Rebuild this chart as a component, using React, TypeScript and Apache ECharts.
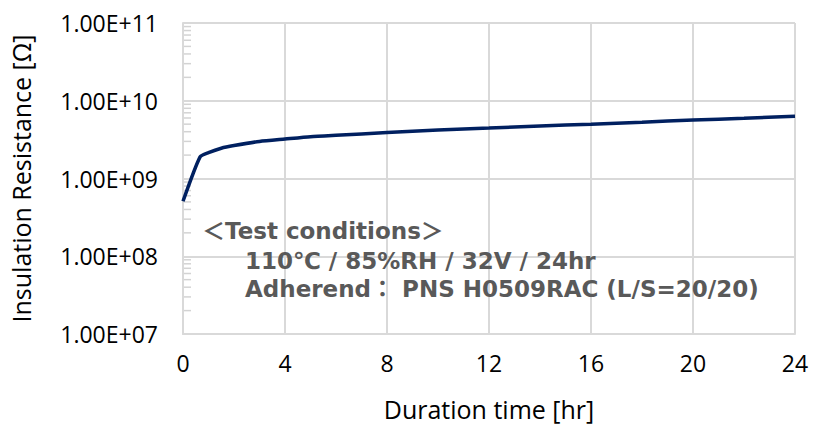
import React, { useEffect, useRef } from "react";
import * as echarts from "echarts";

const xHours = [0, 0.67, 1, 1.5, 2, 3, 4, 5, 6, 8, 10, 12, 14, 16, 18, 20, 22, 24];
const resistance = [5.1e8, 1.9e9, 2.15e9, 2.45e9, 2.65e9, 3.0e9, 3.22e9, 3.45e9, 3.6e9, 3.9e9, 4.2e9, 4.45e9, 4.75e9, 5.0e9, 5.3e9, 5.65e9, 5.95e9, 6.3e9];
const minorMantissas = [2, 3, 4, 5, 6, 7, 8, 9];
const decadeExponents = [7, 8, 9, 10];
const noteLines = ["＜Test conditions＞", "110℃ / 85%RH / 32V / 24hr", "Adherend： PNS H0509RAC (L/S=20/20)"];
const xTitle = "Duration time [hr]";
const yTitle = "Insulation Resistance [Ω]";

const labelFont = "'Open Sans', 'Liberation Sans', Arial, sans-serif";

export default function App() {
  const ref = useRef<HTMLDivElement>(null);
  useEffect(() => {
    document.body.style.margin = "0";
    const chart = echarts.init(ref.current!, null, { renderer: "svg" });
    const minorData: number[][] = [];
    decadeExponents.forEach((e) => minorMantissas.forEach((m) => minorData.push([0, m * Math.pow(10, e)])));
    const linePts = xHours.map((x, i) => [x, resistance[i]]);
    const notePos = [[202, 231], [245, 261], [245, 289]];
    chart.setOption({
      animation: false,
      backgroundColor: "#ffffff",
      grid: { left: 183, right: 21, top: 23, bottom: 90 },
      xAxis: {
        type: "value",
        min: 0,
        max: 24,
        interval: 4,
        name: xTitle,
        nameLocation: "middle",
        nameGap: 62,
        nameTextStyle: { fontFamily: labelFont, fontSize: 25, color: "#000" },
        axisLine: { show: true, lineStyle: { color: "#d9d9d9", width: 2 } },
        axisTick: { show: false },
        axisLabel: { fontFamily: labelFont, fontSize: 23, color: "#000", margin: 17 },
        splitLine: { show: true, lineStyle: { color: "#d9d9d9", width: 2 } },
      },
      yAxis: {
        type: "log",
        logBase: 10,
        min: 1e7,
        max: 1e11,
        name: yTitle,
        nameLocation: "middle",
        nameRotate: 90,
        nameGap: 150,
        nameTextStyle: { fontFamily: labelFont, fontSize: 25, color: "#000" },
        axisLine: { show: true, lineStyle: { color: "#d9d9d9", width: 2 } },
        axisTick: { show: false },
        axisLabel: {
          fontFamily: labelFont,
          fontSize: 23,
          color: "#000",
          margin: 25,
          formatter: (v: number) => {
            const e = Math.round(Math.log10(v));
            const m = v / Math.pow(10, e);
            return `${m.toFixed(2)}E+${String(e).padStart(2, "0")}`;
          },
        },
        splitLine: { show: true, lineStyle: { color: "#d9d9d9", width: 2 } },
      },
      series: [
        {
          type: "scatter",
          data: minorData,
          symbol: "rect",
          symbolSize: [7, 1.5],
          symbolOffset: [4.5, 0],
          itemStyle: { color: "#c8c8c8" },
          silent: true,
          clip: false,
          z: 1,
        },
        {
          type: "line",
          data: linePts,
          showSymbol: false,
          smooth: 0.2,
          lineStyle: { color: "#002060", width: 3.5 },
          z: 3,
        },
      ],
      graphic: noteLines.map((t, i) => ({
        type: "text",
        x: notePos[i][0],
        y: notePos[i][1],
        z: 10,
        style: {
          text: t,
          fill: "#595959",
          font: "bold 23px 'DejaVu Sans', 'Noto Sans CJK JP', sans-serif",
          verticalAlign: "middle",
          align: "left",
        },
      })),
    });
    return () => chart.dispose();
  }, []);
  return <div ref={ref} style={{ position: "absolute", left: 0, top: 0, width: 816, height: 426 }} />;
}
